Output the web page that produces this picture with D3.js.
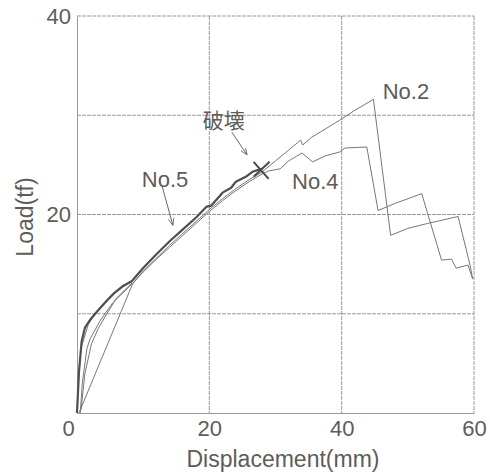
<!DOCTYPE html>
<html>
<head>
<meta charset="utf-8">
<script src="https://cdn.jsdelivr.net/npm/d3@7"></script>
<style>
  body { margin: 0; background: #fff; }
  text { font-family: "Liberation Sans", Arial, sans-serif; fill: #5c5c5c; }
</style>
</head>
<body>
<div id="chart"></div>
<script>
// load-displacement curves, points are [displacement mm, load tf]
let no1 = [[0, 0], [0.2, 3], [0.6, 6.5], [1.7, 8.9], [2.5, 9.8], [3.8, 10.9], [5.5, 12.1], [7, 12.9], [8.3, 13.2]]
let no3 = [[0.6, 0.3], [1.2, 4], [2.2, 7], [3.2, 8.5], [4.5, 10], [6, 11.6], [8.3, 13.1]]
let no2 = [[0.3, 0], [0.8, 0.8], [8.4, 13], [10, 14.3], [12, 15.6], [14, 16.9], [16, 18.1], [18, 19.3], [20, 20.5],
  [22, 21.6], [24, 22.6], [26, 23.5], [28, 24.3], [30, 25.4], [32, 26.5], [33.8, 27.5], [34.1, 27.0], [35.5, 27.8],
  [37, 28.4], [39.7, 29.5], [42, 30.5], [44.8, 31.6], [47.4, 17.9], [50, 18.6], [53, 19.1], [57.6, 19.8],
  [59.4, 14.9], [59.8, 13.5]]
let no4 = [[0.5, 0], [0.8, 3], [1.5, 6.5], [2, 7.5], [3.5, 9.3], [5.4, 11.1], [7.7, 12.6], [8.6, 13.2], [10, 14.2],
  [12, 15.5], [14, 16.7], [16, 17.9], [18, 19.1], [20, 20.3], [22, 21.4], [24, 22.4], [26, 23.3], [28, 24.1],
  [29, 24.4], [30.7, 24.6], [32, 25.4], [34, 26.2], [35.6, 25.3], [37.5, 25.9], [39.7, 26.3], [40.5, 26.7],
  [43.8, 26.8], [45.5, 20.4], [48, 21.1], [52.1, 22.1], [55.1, 15.4], [56.6, 15.5], [57.3, 14.6], [59.1, 14.9],
  [59.8, 13.5]]
let no5 = [[0, 0], [0.3, 4.2], [0.7, 7.2], [1.2, 8.6], [2, 9.4], [3, 10.2], [4.5, 11.3], [5.5, 12], [7, 12.8],
  [8.3, 13.3], [10, 14.6], [12, 16], [14, 17.3], [16, 18.5], [18, 19.7], [19.6, 20.8], [20.3, 20.9], [22, 22.2],
  [23.3, 22.7], [24, 23.3], [25.5, 23.8], [26.5, 24.3], [27.9, 24.6]]

let failurePoint = [27.9, 24.5]

let xTicks = [0, 20, 40, 60]
let yTicks = [20, 40]
let xGrid = [20, 40, 60]
let yGrid = [10, 20, 30, 40]

let labels = [
  { text: 'No.2', x: 46.2, y: 31.6 },
  { text: 'No.4', x: 32.5, y: 22.6 },
  { text: 'No.5', x: 9.8, y: 22.8 },
  { text: '破壊', x: 19.0, y: 28.7 },
]
let arrows = [
  { from: [23.4, 28.3], to: [25.7, 26.0] },
  { from: [12.8, 23.0], to: [14.5, 18.9] },
]

let margin = { top: 16, right: 16, bottom: 62, left: 77 }
let width = 490 - margin.left - margin.right
let height = 475 - margin.top - margin.bottom

let svg = d3.select('#chart')
  .append('svg')
    .attr('width', 490)
    .attr('height', 475)

let plot = svg.append('g')
  .attr('transform', `translate(${margin.left}, ${margin.top})`)

let xScale = d3.scaleLinear().domain([0, 60]).range([0, width])
let yScale = d3.scaleLinear().domain([0, 40]).range([height, 0])

svg.append('defs').append('marker')
  .attr('id', 'head')
  .attr('viewBox', '0 0 10 10')
  .attr('refX', 10).attr('refY', 5)
  .attr('markerWidth', 7).attr('markerHeight', 7)
  .attr('orient', 'auto')
  .append('path')
    .attr('d', 'M0,1 L10,5 L0,9')
    .attr('fill', 'none')
    .attr('stroke', '#666')
    .attr('stroke-width', 1.2)

// grid
plot.selectAll('.vgrid').data(xGrid).enter().append('line')
  .attr('x1', d => xScale(d)).attr('x2', d => xScale(d))
  .attr('y1', 0).attr('y2', height)
  .attr('stroke', '#999').attr('stroke-width', 1).attr('stroke-dasharray', '4,1')
plot.selectAll('.hgrid').data(yGrid).enter().append('line')
  .attr('y1', d => yScale(d)).attr('y2', d => yScale(d))
  .attr('x1', 0).attr('x2', width)
  .attr('stroke', '#999').attr('stroke-width', 1).attr('stroke-dasharray', '4,1')

// axes
let xAxis = plot.append('g')
  .attr('transform', `translate(0, ${height})`)
  .call(d3.axisBottom(xScale).tickValues(xTicks).tickSize(0).tickPadding(7))
let yAxis = plot.append('g')
  .call(d3.axisLeft(yScale).tickValues(yTicks).tickSize(0).tickPadding(6))

for (let ax of [xAxis, yAxis]) {
  ax.select('.domain').attr('stroke', '#999')
  ax.selectAll('text')
    .attr('font-size', 22)
    .attr('font-family', '"Liberation Sans", Arial, sans-serif')
    .attr('fill', '#5c5c5c')
}
xAxis.selectAll('text').attr('dy', '0.71em')
xAxis.selectAll('text').filter(d => d === 0).attr('dx', -9)

// curves
let line = d3.line()
  .x(d => xScale(d[0]))
  .y(d => yScale(d[1]))

let thin = [no1, no3, no2, no4]
for (let s of thin) {
  plot.append('path')
    .datum(s)
    .attr('d', line)
    .attr('fill', 'none')
    .attr('stroke', '#777')
    .attr('stroke-width', 1)
    .attr('stroke-linejoin', 'round')
}
plot.append('path')
  .datum(no5)
  .attr('d', line)
  .attr('fill', 'none')
  .attr('stroke', '#4f4f4f')
  .attr('stroke-width', 2.2)
  .attr('stroke-linejoin', 'round')

// failure mark
let fx = xScale(failurePoint[0])
let fy = yScale(failurePoint[1])
plot.append('path')
  .attr('d', `M${fx - 8},${fy - 8}L${fx + 7},${fy + 9}M${fx + 8},${fy - 8}L${fx - 8},${fy + 7}`)
  .attr('stroke', '#4a4a4a')
  .attr('stroke-width', 2)

// labels and arrows
plot.selectAll('.lbl').data(labels).enter().append('text')
  .attr('x', d => xScale(d.x))
  .attr('y', d => yScale(d.y))
  .attr('font-size', d => d.text === '破壊' ? 21 : 22)
  .style('font-family', d => d.text === '破壊' ? '"Noto Sans CJK JP", sans-serif' : '"Liberation Sans", Arial, sans-serif')
  .text(d => d.text)

plot.selectAll('.arrow').data(arrows).enter().append('line')
  .attr('x1', d => xScale(d.from[0])).attr('y1', d => yScale(d.from[1]))
  .attr('x2', d => xScale(d.to[0])).attr('y2', d => yScale(d.to[1]))
  .attr('stroke', '#666')
  .attr('stroke-width', 1)
  .attr('marker-end', 'url(#head)')

// axis titles
svg.append('text')
  .attr('x', 283)
  .attr('y', 467)
  .attr('text-anchor', 'middle')
  .attr('font-size', 23)
  .text('Displacement(mm)')

svg.append('text')
  .attr('transform', 'translate(33, 217) rotate(-90)')
  .attr('text-anchor', 'middle')
  .attr('font-size', 23)
  .text('Load(tf)')
</script>
</body>
</html>
